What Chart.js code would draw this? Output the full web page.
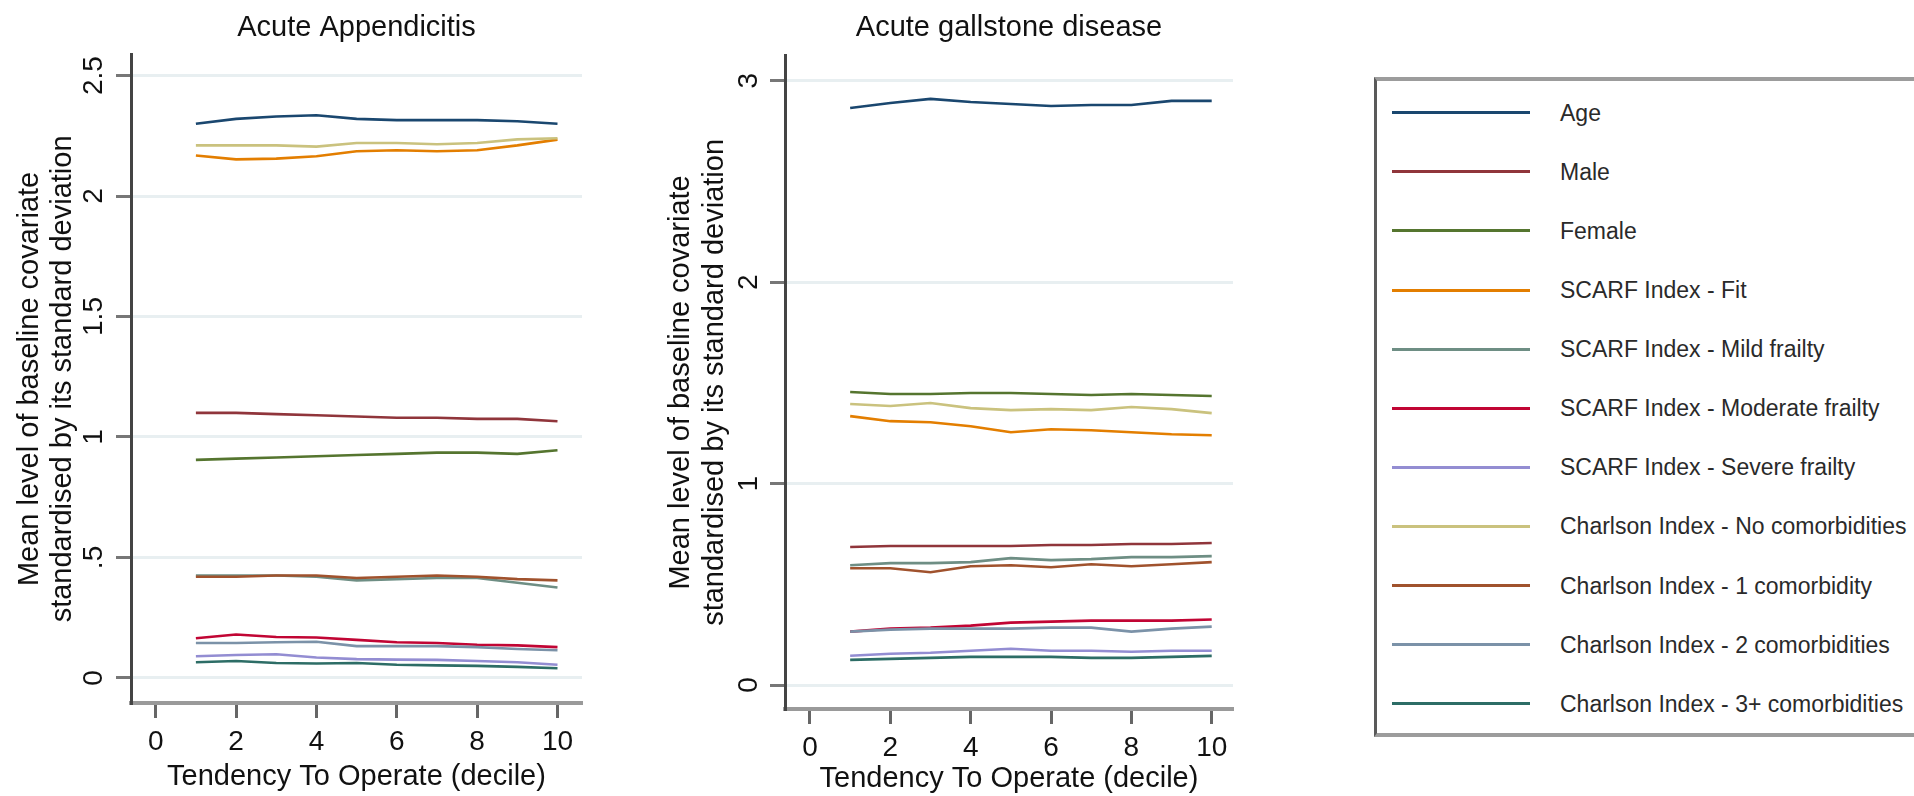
<!DOCTYPE html>
<html lang="en">
<head>
    <meta charset="UTF-8">
    <title>Baseline covariates by tendency to operate</title>
    <script src="https://cdn.jsdelivr.net/npm/chart.js"></script>
    <style>
        html, body {
            margin: 0;
            padding: 0;
            background: #fff;
        }
        body {
            width: 1914px;
            height: 796px;
            position: relative;
            overflow: hidden;
            font-family: 'Liberation Sans', Arial, sans-serif;
        }
        canvas {
            position: absolute;
            top: 0;
        }
        #appChart { left: 0; }
        #galChart { left: 640px; }

        #legend {
            position: absolute;
            left: 1374px;
            top: 77px;
            width: 620px;
            height: 660px;
            box-sizing: border-box;
            border-top: 4px solid #9c9c9c;
            border-bottom: 4px solid #9c9c9c;
            border-left: 3px solid #5a5a5a;
        }
        .item {
            position: absolute;
            left: 0;
            height: 0;
        }
        .swatch {
            position: absolute;
            left: 15px;
            width: 138px;
            height: 3px;
            top: -1.5px;
        }
        .label {
            position: absolute;
            left: 183px;
            top: -14px;
            line-height: 28px;
            font-size: 23px;
            color: #2a2a2a;
            white-space: nowrap;
        }
    </style>
</head>
<body>
    <canvas id="appChart" width="600" height="796"></canvas>
    <canvas id="galChart" width="610" height="796"></canvas>
    <div id="legend"></div>

    <script>
        // deciles of tendency to operate
        const deciles = [1, 2, 3, 4, 5, 6, 7, 8, 9, 10];

        const seriesLabels = [
            'Age', 'Male', 'Female',
            'SCARF Index - Fit', 'SCARF Index - Mild frailty',
            'SCARF Index - Moderate frailty', 'SCARF Index - Severe frailty',
            'Charlson Index - No comorbidities', 'Charlson Index - 1 comorbidity',
            'Charlson Index - 2 comorbidities', 'Charlson Index - 3+ comorbidities'
        ];
        // stata s2color order
        const seriesColors = ['#1a476f', '#90353b', '#55752f', '#e37e00', '#6e8e84',
            '#c10534', '#938dd2', '#cac27e', '#a0522d', '#7b92a8', '#2d6d66'];

        // Acute appendicitis
        const appAge         = [2.30, 2.32, 2.33, 2.335, 2.32, 2.315, 2.315, 2.315, 2.31, 2.30];
        const appMale        = [1.10, 1.10, 1.095, 1.09, 1.085, 1.08, 1.08, 1.075, 1.075, 1.065];
        const appFemale      = [0.905, 0.91, 0.915, 0.92, 0.925, 0.93, 0.935, 0.935, 0.93, 0.945];
        const appFit         = [2.168, 2.152, 2.155, 2.165, 2.186, 2.19, 2.186, 2.19, 2.21, 2.234];
        const appMild        = [0.425, 0.425, 0.425, 0.42, 0.405, 0.41, 0.415, 0.415, 0.395, 0.375];
        const appModerate    = [0.165, 0.18, 0.17, 0.168, 0.158, 0.148, 0.145, 0.138, 0.135, 0.128];
        const appSevere      = [0.09, 0.095, 0.098, 0.085, 0.078, 0.076, 0.075, 0.07, 0.065, 0.055];
        const appNoComorb    = [2.21, 2.21, 2.21, 2.205, 2.22, 2.22, 2.215, 2.22, 2.235, 2.24];
        const appOneComorb   = [0.42, 0.42, 0.425, 0.425, 0.415, 0.42, 0.425, 0.42, 0.41, 0.405];
        const appTwoComorb   = [0.145, 0.145, 0.148, 0.15, 0.132, 0.132, 0.132, 0.128, 0.12, 0.115];
        const appThreeComorb = [0.065, 0.07, 0.062, 0.06, 0.062, 0.055, 0.052, 0.05, 0.046, 0.04];

        // Acute gallstone disease
        const galAge         = [2.865, 2.89, 2.91, 2.895, 2.885, 2.875, 2.88, 2.88, 2.90, 2.90];
        const galMale        = [0.685, 0.69, 0.69, 0.69, 0.69, 0.695, 0.695, 0.70, 0.70, 0.705];
        const galFemale      = [1.455, 1.445, 1.445, 1.45, 1.45, 1.445, 1.44, 1.445, 1.44, 1.435];
        const galFit         = [1.335, 1.31, 1.305, 1.285, 1.255, 1.27, 1.265, 1.255, 1.245, 1.24];
        const galMild        = [0.595, 0.605, 0.605, 0.61, 0.63, 0.62, 0.625, 0.635, 0.635, 0.64];
        const galModerate    = [0.265, 0.28, 0.285, 0.295, 0.31, 0.315, 0.32, 0.32, 0.32, 0.325];
        const galSevere      = [0.145, 0.155, 0.16, 0.17, 0.18, 0.17, 0.17, 0.165, 0.17, 0.17];
        const galNoComorb    = [1.395, 1.385, 1.40, 1.375, 1.365, 1.37, 1.365, 1.38, 1.37, 1.35];
        const galOneComorb   = [0.58, 0.58, 0.56, 0.59, 0.595, 0.585, 0.60, 0.59, 0.60, 0.61];
        const galTwoComorb   = [0.265, 0.275, 0.28, 0.28, 0.28, 0.285, 0.285, 0.265, 0.28, 0.29];
        const galThreeComorb = [0.125, 0.13, 0.135, 0.14, 0.14, 0.14, 0.135, 0.135, 0.14, 0.145];

        // axis ticks
        const xTicks = [0, 2, 4, 6, 8, 10];
        const appYTicks = [0, 0.5, 1, 1.5, 2, 2.5];
        const appYTickLabels = ['0', '.5', '1', '1.5', '2', '2.5'];
        const galYTicks = [0, 1, 2, 3];
        const galYTickLabels = ['0', '1', '2', '3'];

        const appSeries = [appAge, appMale, appFemale, appFit, appMild, appModerate,
            appSevere, appNoComorb, appOneComorb, appTwoComorb, appThreeComorb];
        const galSeries = [galAge, galMale, galFemale, galFit, galMild, galModerate,
            galSevere, galNoComorb, galOneComorb, galTwoComorb, galThreeComorb];

        const FONT = "'Liberation Sans', Arial, sans-serif";
        Chart.defaults.font.family = FONT;

        function buildChart(id, cfg) {
            const datasets = cfg.series.map((vals, i) => ({
                label: seriesLabels[i],
                data: deciles.map((d, j) => ({ x: d, y: vals[j] })),
                borderColor: seriesColors[i],
                backgroundColor: seriesColors[i],
                borderWidth: 2.6,
                pointRadius: 0,
                tension: 0,
                fill: false,
                order: cfg.series.length - i   // later series drawn on top, like stata
            }));

            return new Chart(document.getElementById(id), {
                type: 'line',
                data: { datasets: datasets },
                options: {
                    responsive: false,
                    animation: false,
                    layout: { padding: { left: 0, right: cfg.padRight, top: 0, bottom: 0 } },
                    plugins: {
                        legend: { display: false },
                        tooltip: { enabled: false },
                        title: {
                            display: true,
                            text: cfg.title,
                            fullSize: false,
                            color: '#111',
                            font: { size: 29, weight: 'normal', lineHeight: 1.2 },
                            padding: { top: 11, bottom: cfg.titleGap }
                        }
                    },
                    scales: {
                        x: {
                            type: 'linear',
                            min: cfg.xMin,
                            max: cfg.xMax,
                            afterBuildTicks: s => { s.ticks = xTicks.map(v => ({ value: v })); },
                            afterFit: s => { s.height = cfg.xAxisHeight; },
                            grid: {
                                drawOnChartArea: false,
                                tickLength: 15,
                                tickWidth: 3,
                                tickColor: '#666'
                            },
                            border: { color: '#9a9a9a', width: 4 },
                            ticks: {
                                color: '#111',
                                font: { size: 28 },
                                padding: 7,
                                maxRotation: 0,
                                autoSkip: false
                            },
                            title: {
                                display: true,
                                text: 'Tendency To Operate (decile)',
                                color: '#111',
                                font: { size: 29, lineHeight: 1.2 },
                                padding: { top: 0, bottom: cfg.xTitleBottom }
                            }
                        },
                        y: {
                            min: cfg.yMin,
                            max: cfg.yMax,
                            afterBuildTicks: s => { s.ticks = cfg.yTicks.map(v => ({ value: v })); },
                            afterFit: s => { s.width = cfg.yAxisWidth; },
                            grid: {
                                color: '#e8eff1',
                                lineWidth: 3,
                                tickLength: 15,
                                tickWidth: 3,
                                tickColor: '#777'
                            },
                            border: { color: '#444', width: 3 },
                            ticks: {
                                color: '#111',
                                font: { size: 28 },
                                minRotation: 90,
                                maxRotation: 90,
                                crossAlign: 'center',
                                padding: cfg.yTickPad,
                                autoSkip: false,
                                callback: (v, i) => cfg.yTickLabels[i]
                            },
                            title: {
                                display: true,
                                text: ['Mean level of baseline covariate', 'standardised by its standard deviation'],
                                color: '#111',
                                font: { size: 29, lineHeight: 1.15 },
                                padding: { top: cfg.yTitleTop, bottom: 0 }
                            }
                        }
                    }
                }
            });
        }

        buildChart('appChart', {
            title: 'Acute Appendicitis',
            series: appSeries,
            xMin: -0.615, xMax: 10.61,
            yMin: -0.104, yMax: 2.586,
            yTicks: appYTicks, yTickLabels: appYTickLabels,
            padRight: 18, yAxisWidth: 131, xAxisHeight: 93,
            titleGap: 9, xTitleBottom: 2, yTickPad: 2.5, yTitleTop: 13.3
        });

        buildChart('galChart', {
            title: 'Acute gallstone disease',
            series: galSeries,
            xMin: -0.622, xMax: 10.53,
            yMin: -0.119, yMax: 3.124,
            yTicks: galYTicks, yTickLabels: galYTickLabels,
            padRight: 17, yAxisWidth: 145, xAxisHeight: 87,
            titleGap: 10, xTitleBottom: 0, yTickPad: 13, yTitleTop: 24.6
        });

        // legend box on the right
        const legend = document.getElementById('legend');
        seriesLabels.forEach((name, i) => {
            const item = document.createElement('div');
            item.className = 'item';
            item.style.top = (31.7 + 59.1 * i) + 'px';
            item.innerHTML = '<div class="swatch" style="background:' + seriesColors[i] + '"></div>' +
                '<div class="label">' + name + '</div>';
            legend.appendChild(item);
        });
    </script>
</body>
</html>
